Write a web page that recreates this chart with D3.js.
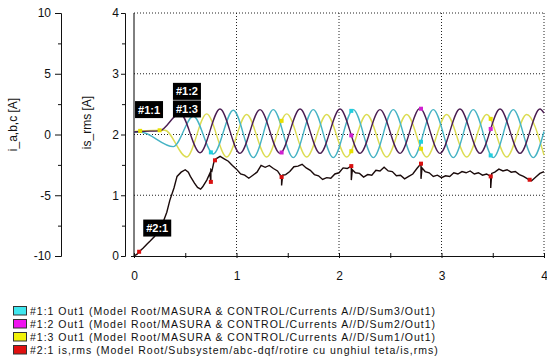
<!DOCTYPE html>
<html>
<head>
<meta charset="utf-8">
<script src="https://cdn.jsdelivr.net/npm/d3@7"></script>
<style>
  body { margin: 0; background: #fff; }
  svg { font-family: "Liberation Sans", Arial, sans-serif; display: block; }
</style>
</head>
<body>
<svg id="drawing_region"></svg>
<script>
// ---- values ----
const xTicks = [0, 1, 2, 3, 4];
const xMinorTicks = [0, 0.5, 1, 1.5, 2, 2.5, 3, 3.5, 4];
const iTicks = [10, 5, 0, -5, -10];
const iMinorTicks = [7.5, 2.5, -2.5, -7.5];
const rmsTicks = [4, 3, 2, 1, 0];
const rmsMinorTicks = [3.5, 2.5, 1.5, 0.5];
const gridX = [1, 2, 3, 4];
const gridY = [1, 2, 3, 4];

// #1:1 (cyan) phase current, [time, A]
const cyanData = [[0,0.2],[0.06,0.2],[0.383,-1.0],[0.579,1.5],[0.774,-1.6],[0.969,2.0],[1.164,-1.9],[1.359,2.05],
  [1.554,-1.9],[1.749,2.05],[1.944,-1.9],[2.139,2.05],[2.335,-1.9],[2.530,2.05],[2.725,-1.9],[2.920,2.05],
  [3.115,-1.9],[3.310,2.05],[3.505,-1.9],[3.700,2.05],[3.895,-1.9],[4.0,0.25]];
// #1:2 (magenta) phase current
const magentaData = [[0,0.2],[0.06,0.25],[0.25,0.3],[0.449,1.75],[0.644,-1.5],[0.839,2.1],[1.034,-1.55],[1.229,2.05],
  [1.424,-1.55],[1.620,2.1],[1.815,-1.55],[2.010,2.1],[2.205,-1.55],[2.400,2.05],[2.595,-1.55],[2.790,2.15],
  [2.985,-1.55],[3.180,2.1],[3.376,-1.55],[3.571,2.1],[3.766,-1.55],[3.961,2.1],[4.0,1.75]];
// #1:3 (yellow) phase current
const yellowData = [[0,0.25],[0.06,0.3],[0.30,0.35],[0.514,-1.85],[0.709,1.7],[0.904,-1.85],[1.099,1.65],[1.294,-1.85],
  [1.490,1.7],[1.685,-1.85],[1.880,1.65],[2.075,-1.85],[2.270,1.65],[2.465,-1.85],[2.660,1.65],[2.855,-1.85],
  [3.050,1.65],[3.246,-1.85],[3.441,1.65],[3.636,-1.85],[3.831,1.65],[4.0,-1.7]];
// #2:1 is,rms
const rmsData = [[0.00,0.00],[0.03,0.03],[0.05,0.07],[0.09,0.13],[0.13,0.20],[0.16,0.25],[0.20,0.32],[0.24,0.43],
  [0.28,0.54],[0.32,0.72],[0.35,0.92],[0.39,1.12],[0.42,1.31],[0.46,1.38],[0.50,1.42],[0.53,1.38],[0.55,1.31],
  [0.59,1.20],[0.62,1.13],[0.65,1.10],[0.67,1.14],[0.71,1.25],[0.74,1.36],[0.75,1.22],[0.75,1.42],[0.76,1.40],
  [0.78,1.55],[0.80,1.60],[0.84,1.64],[0.88,1.60],[0.92,1.56],[0.96,1.49],[1.00,1.43],[1.04,1.35],[1.08,1.33],
  [1.12,1.28],[1.16,1.33],[1.20,1.38],[1.24,1.49],[1.28,1.46],[1.32,1.49],[1.36,1.44],[1.40,1.40],[1.44,1.30],
  [1.44,1.16],[1.45,1.33],[1.48,1.34],[1.52,1.39],[1.56,1.47],[1.60,1.48],[1.64,1.51],[1.68,1.45],[1.72,1.41],
  [1.76,1.34],[1.80,1.32],[1.84,1.26],[1.88,1.29],[1.92,1.28],[1.96,1.35],[2.00,1.37],[2.04,1.45],[2.08,1.44],
  [2.12,1.48],[2.12,1.25],[2.13,1.42],[2.16,1.37],[2.20,1.36],[2.24,1.30],[2.28,1.34],[2.32,1.33],[2.36,1.41],
  [2.40,1.40],[2.44,1.46],[2.48,1.40],[2.52,1.39],[2.56,1.32],[2.60,1.33],[2.64,1.27],[2.68,1.31],[2.72,1.35],
  [2.76,1.44],[2.80,1.52],[2.80,1.27],[2.81,1.45],[2.84,1.39],[2.88,1.37],[2.92,1.31],[2.96,1.33],[3.00,1.29],
  [3.04,1.32],[3.08,1.31],[3.12,1.37],[3.16,1.35],[3.20,1.39],[3.24,1.37],[3.28,1.40],[3.32,1.35],[3.36,1.37],
  [3.40,1.33],[3.44,1.35],[3.48,1.31],[3.48,1.12],[3.49,1.36],[3.52,1.38],[3.56,1.43],[3.60,1.40],[3.64,1.42],
  [3.68,1.38],[3.72,1.39],[3.76,1.34],[3.80,1.31],[3.84,1.27],[3.88,1.24],[3.92,1.30],[3.96,1.36],[4.00,1.39]];

// times where the scope put its little markers
const cyanMarkTimes = [0.75, 2.12, 2.80, 3.48];
const magentaMarkTimes = [1.44, 2.12, 2.80, 3.48];
const yellowMarkTimes = [0.06, 0.25, 1.44, 2.12, 2.80, 3.48];
const rmsMarkTimes = [0.05, 0.75, 0.79, 1.44, 2.12, 2.80, 3.48, 3.86];

// data tags: label, time and is_rms value of the box top-left
const tagNames = ['#1:1', '#1:2', '#1:3', '#2:1'];
const tagTimes = [0.01, 0.38, 0.38, 0.09];
const tagValues = [2.55, 2.85, 2.56, 0.60];

const legendNames = [
  '#1:1 Out1 (Model Root/MASURA & CONTROL/Currents A//D/Sum3/Out1)',
  '#1:2 Out1 (Model Root/MASURA & CONTROL/Currents A//D/Sum2/Out1)',
  '#1:3 Out1 (Model Root/MASURA & CONTROL/Currents A//D/Sum1/Out1)',
  '#2:1 is,rms (Model Root/Subsystem/abc-dqf/rotire cu unghiul teta/is,rms)'
];
const legendColors = ['#3fe6ee', '#f014f0', '#f2f20a', '#e01010'];

var config = {
    parent: '#drawing_region',
    width: 547,
    height: 364,
    margin: {top:13, right:3, bottom:108, left:134}
};

class ScopePlot {

    constructor( config ) {
        this.config = config;
        this.init();
    }

    init() {
        let self = this;

        self.svg = d3.select( self.config.parent )
            .attr('width', self.config.width)
            .attr('height', self.config.height);

        self.chart = self.svg.append('g')
            .attr('transform', `translate(${self.config.margin.left}, ${self.config.margin.top})`);

        self.inner_width = self.config.width - self.config.margin.left - self.config.margin.right;
        self.inner_height = self.config.height - self.config.margin.top - self.config.margin.bottom;

        self.xscale = d3.scaleLinear().domain([0, 4]).range([0, self.inner_width]);
        self.iscale = d3.scaleLinear().domain([-10, 10]).range([self.inner_height, 0]);
        self.rmsscale = d3.scaleLinear().domain([0, 4]).range([self.inner_height, 0]);
    }

    render() {
        let self = this;
        const h = self.inner_height, w = self.inner_width;
        const plain = d => String(d);   // scope prints "-5", "4", not "−5", "4.0"

        // dotted grid
        self.chart.selectAll('.gx').data(gridX).enter().append('line')
            .attr('x1', d => self.xscale(d)).attr('x2', d => self.xscale(d))
            .attr('y1', 0).attr('y2', h)
            .attr('stroke', '#222').attr('stroke-dasharray', '1,2');
        self.chart.selectAll('.gy').data(gridY).enter().append('line')
            .attr('x1', 0).attr('x2', w)
            .attr('y1', d => self.rmsscale(d)).attr('y2', d => self.rmsscale(d))
            .attr('stroke', '#222').attr('stroke-dasharray', '1,2');

        // plot frame (left side)
        self.chart.append('line')
            .attr('x1', 0).attr('x2', 0).attr('y1', 0).attr('y2', h)
            .attr('stroke', '#000');

        // x axis
        const xg = self.chart.append('g').attr('transform', `translate(0, ${h})`);
        xg.call( d3.axisBottom(self.xscale).tickValues(xMinorTicks).tickSizeInner(-3).tickSizeOuter(0).tickFormat('') );
        const xg2 = self.chart.append('g').attr('transform', `translate(0, ${h})`);
        xg2.call( d3.axisBottom(self.xscale).tickValues(xMinorTicks).tickSizeInner(2).tickSizeOuter(0).tickPadding(13)
            .tickFormat(d => xTicks.includes(d) ? plain(d) : '') );
        xg2.select('.domain').attr('d', `M-3,0.5H${w}`);

        // is_rms axis
        const rg = self.chart.append('g').attr('transform', 'translate(-9, 0)');
        rg.call( d3.axisLeft(self.rmsscale).tickValues(rmsTicks).tickSize(4).tickPadding(2).tickFormat(plain) );
        rg.append('g').call( d3.axisLeft(self.rmsscale).tickValues(rmsMinorTicks).tickSize(3).tickFormat('') )
            .select('.domain').remove();

        // i_a,b,c axis
        const ig = self.chart.append('g').attr('transform', 'translate(-73, 0)');
        ig.call( d3.axisLeft(self.iscale).tickValues(iTicks).tickSize(6).tickPadding(4).tickFormat(plain) );
        ig.append('g').call( d3.axisLeft(self.iscale).tickValues(iMinorTicks).tickSize(3).tickFormat('') )
            .select('.domain').remove();

        self.svg.selectAll('.tick text').attr('font-size', 12).attr('font-family', '"Liberation Sans", Arial, sans-serif').attr('fill', '#111');
        self.svg.selectAll('.domain, .tick line').attr('stroke', '#111');

        // axis titles
        self.svg.append('text')
            .attr('transform', `translate(17, ${self.config.margin.top + h/2 - 10}) rotate(-90)`)
            .attr('text-anchor', 'middle').attr('font-size', 12).attr('fill', '#111')
            .text('i_a,b,c [A]');
        self.svg.append('text')
            .attr('transform', `translate(91, ${self.config.margin.top + h/2 - 12}) rotate(-90)`)
            .attr('text-anchor', 'middle').attr('font-size', 12).attr('fill', '#111')
            .text('is_rms [A]');

        // lines
        const phaseLine = d3.line()
            .x( d => self.xscale(d[0]) )
            .y( d => self.iscale(d[1]) )
            .curve( d3.curveMonotoneX );
        const rmsLine = d3.line()
            .x( d => self.xscale(d[0]) )
            .y( d => self.rmsscale(d[1]) );

        const rmsPath = self.chart.append('path')
            .attr('d', rmsLine(rmsData))
            .attr('stroke', '#1a0a0a').attr('stroke-width', 1.4).attr('fill', 'none');
        const yellowPath = self.chart.append('path')
            .attr('d', phaseLine(yellowData))
            .attr('stroke', '#dcdc52').attr('stroke-width', 1.4).attr('fill', 'none');
        const cyanPath = self.chart.append('path')
            .attr('d', phaseLine(cyanData))
            .attr('stroke', '#45b3c4').attr('stroke-width', 1.4).attr('fill', 'none');
        const magentaPath = self.chart.append('path')
            .attr('d', phaseLine(magentaData))
            .attr('stroke', '#4a1d52').attr('stroke-width', 1.4).attr('fill', 'none');

        // markers sit on the drawn curves
        const pointAt = (node, px) => {
            let lo = 0, hi = node.getTotalLength();
            for (let k = 0; k < 30; k++) {
                const mid = (lo + hi) / 2;
                if (node.getPointAtLength(mid).x < px) lo = mid; else hi = mid;
            }
            return node.getPointAtLength(hi);
        };
        const marks = [
            [yellowPath, yellowMarkTimes, '#e8e000'],
            [cyanPath, cyanMarkTimes, '#20d0e0'],
            [magentaPath, magentaMarkTimes, '#d020d0'],
            [rmsPath, rmsMarkTimes, '#d81010']
        ];
        marks.forEach( m => {
            const node = m[0].node();
            self.chart.selectAll(null).data(m[1]).enter().append('rect')
                .attr('x', d => pointAt(node, self.xscale(d)).x - 2)
                .attr('y', d => pointAt(node, self.xscale(d)).y - 2)
                .attr('width', 4).attr('height', 4)
                .attr('fill', m[2]);
        });

        // tags
        const tags = self.chart.selectAll('.tag').data(tagNames).enter().append('g')
            .attr('transform', (d, i) => `translate(${self.xscale(tagTimes[i])}, ${self.rmsscale(tagValues[i])})`);
        tags.append('rect').attr('width', 28).attr('height', 17).attr('fill', '#000');
        tags.append('text').attr('x', 14).attr('y', 12.5).attr('text-anchor', 'middle')
            .attr('font-size', 11).attr('font-weight', 'bold').attr('fill', '#fff')
            .text(d => d);

        // legend
        const leg = self.svg.selectAll('.leg').data(legendNames).enter().append('g')
            .attr('transform', (d, i) => `translate(13, ${306 + i * 13})`);
        leg.append('rect').attr('x', 0.5).attr('y', 0.5).attr('width', 13).attr('height', 8.5)
            .attr('fill', (d, i) => legendColors[i]).attr('stroke', '#333');
        leg.append('text').attr('x', 17).attr('y', 8.5)
            .attr('font-size', 10.5).attr('letter-spacing', 1.0).attr('fill', '#111')
            .text(d => d);
    }
}

const plot = new ScopePlot( config );
plot.render();
</script>
</body>
</html>
